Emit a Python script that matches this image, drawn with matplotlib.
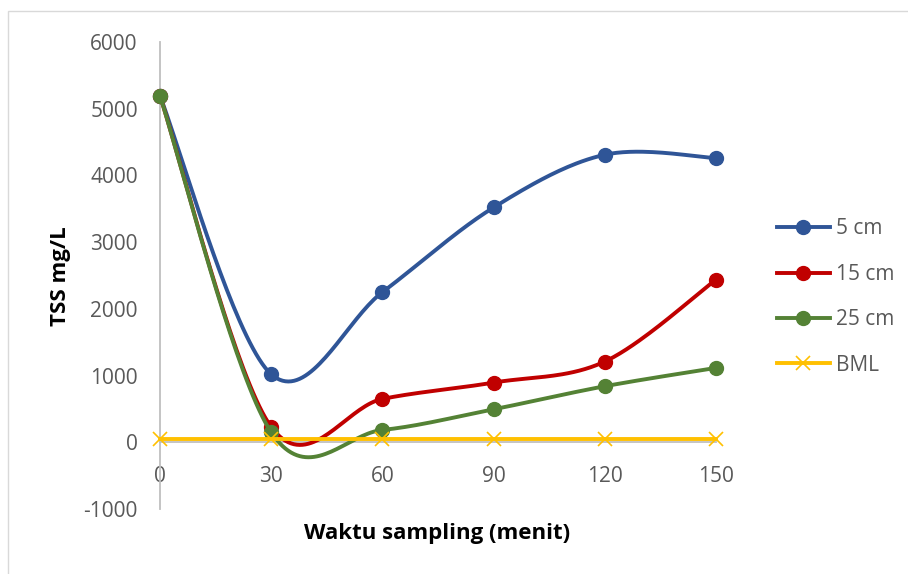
import numpy as np
import matplotlib
matplotlib.use("Agg")
import matplotlib.pyplot as plt
from matplotlib.lines import Line2D
from matplotlib.patches import Rectangle

x_vals = [0, 30, 60, 90, 120, 150]
s5 = [5190, 1020, 2250, 3520, 4310, 4260]
s15 = [5190, 230, 650, 895, 1210, 2440]
s25 = [5190, 150, 185, 495, 840, 1115]
bml = [45, 45, 45, 45, 45, 45]
names = ["5 cm", "15 cm", "25 cm", "BML"]
x_ticks = [0, 30, 60, 90, 120, 150]
y_ticks = [-1000, 0, 1000, 2000, 3000, 4000, 5000, 6000]

colors = ["#2F5597", "#C00000", "#548235", "#FFC000"]

plt.rcParams['font.family'] = ['Open Sans', 'DejaVu Sans']
plt.rcParams['axes.unicode_minus'] = False

W, H = 908, 574
fig = plt.figure(figsize=(W / 100, H / 100), dpi=100)
ax = fig.add_axes([160 / W, 1 - 509 / H, (716 - 160) / W, (509 - 42) / H])
ax.set_xlim(0, 150)
ax.set_ylim(-1000, 6000)

# chart border
fig.patches.append(Rectangle((8 / W, -0.05), 1.2, 1 - 11 / H + 0.05, transform=fig.transFigure,
                             fill=False, edgecolor="#D9D9D9", linewidth=1.0))


def smooth(xs, ys, n=40):
    fig.canvas.draw()
    pts = ax.transData.transform(np.column_stack([xs, ys]))
    out = []
    m = len(pts)
    for i in range(m - 1):
        p0 = pts[i - 1] if i > 0 else pts[i]
        p1 = pts[i]
        p2 = pts[i + 1]
        p3 = pts[i + 2] if i + 2 < m else pts[i + 1]
        c1 = p1 + (p2 - p0) / 6.0
        c2 = p2 - (p3 - p1) / 6.0
        t = np.linspace(0, 1, n)[:, None]
        seg = ((1 - t) ** 3) * p1 + 3 * ((1 - t) ** 2) * t * c1 + 3 * (1 - t) * t ** 2 * c2 + t ** 3 * p2
        out.append(seg if i == 0 else seg[1:])
    out = np.vstack(out)
    d = ax.transData.inverted().transform(out)
    return d[:, 0], d[:, 1]


series = [s5, s15, s25]
handles = []
for k, ys in enumerate(series):
    sx, sy = smooth(x_vals, ys)
    ax.plot(sx, sy, color=colors[k], lw=2.8, zorder=3 + k, solid_capstyle='round')
    ax.plot(x_vals, ys, 'o', color=colors[k], ms=10, zorder=3 + k, clip_on=False)
    handles.append(Line2D([], [], color=colors[k], lw=2.8, marker='o', ms=10))

ax.plot(x_vals, bml, color=colors[3], lw=2.8, marker='x', ms=10, mew=1.2, zorder=7, clip_on=False)
handles.append(Line2D([], [], color=colors[3], lw=2.8, marker='x', ms=10, mew=1.2))

for s in ['top', 'right']:
    ax.spines[s].set_visible(False)
ax.spines['bottom'].set_position(('data', 0))
ax.spines['bottom'].set_color("#BFBFBF")
ax.spines['left'].set_color("#BFBFBF")
ax.spines['bottom'].set_linewidth(1.3)
ax.spines['left'].set_linewidth(1.3)

ax.set_xticks(x_ticks)
ax.set_yticks(y_ticks)
ax.tick_params(axis='both', length=0, labelsize=15, labelcolor="#595959")
ax.tick_params(axis='x', pad=17)
ax.tick_params(axis='y', pad=16)

fig.text(437 / W, 1 - 533 / H, "Waktu sampling (menit)", ha='center', va='center',
         fontsize=16, fontweight='bold', color='black')
fig.text(61 / W, 1 - 276 / H, "TSS mg/L", ha='center', va='center', rotation=90,
         fontsize=16, fontweight='bold', color='black')

leg = fig.legend(handles, names, loc='center left', bbox_to_anchor=(758 / W, 1 - 297 / H),
                 frameon=False, fontsize=15, labelcolor="#595959", handlelength=2.55,
                 labelspacing=1.17, handletextpad=0.3)

fig.savefig("out.png", dpi=100)
